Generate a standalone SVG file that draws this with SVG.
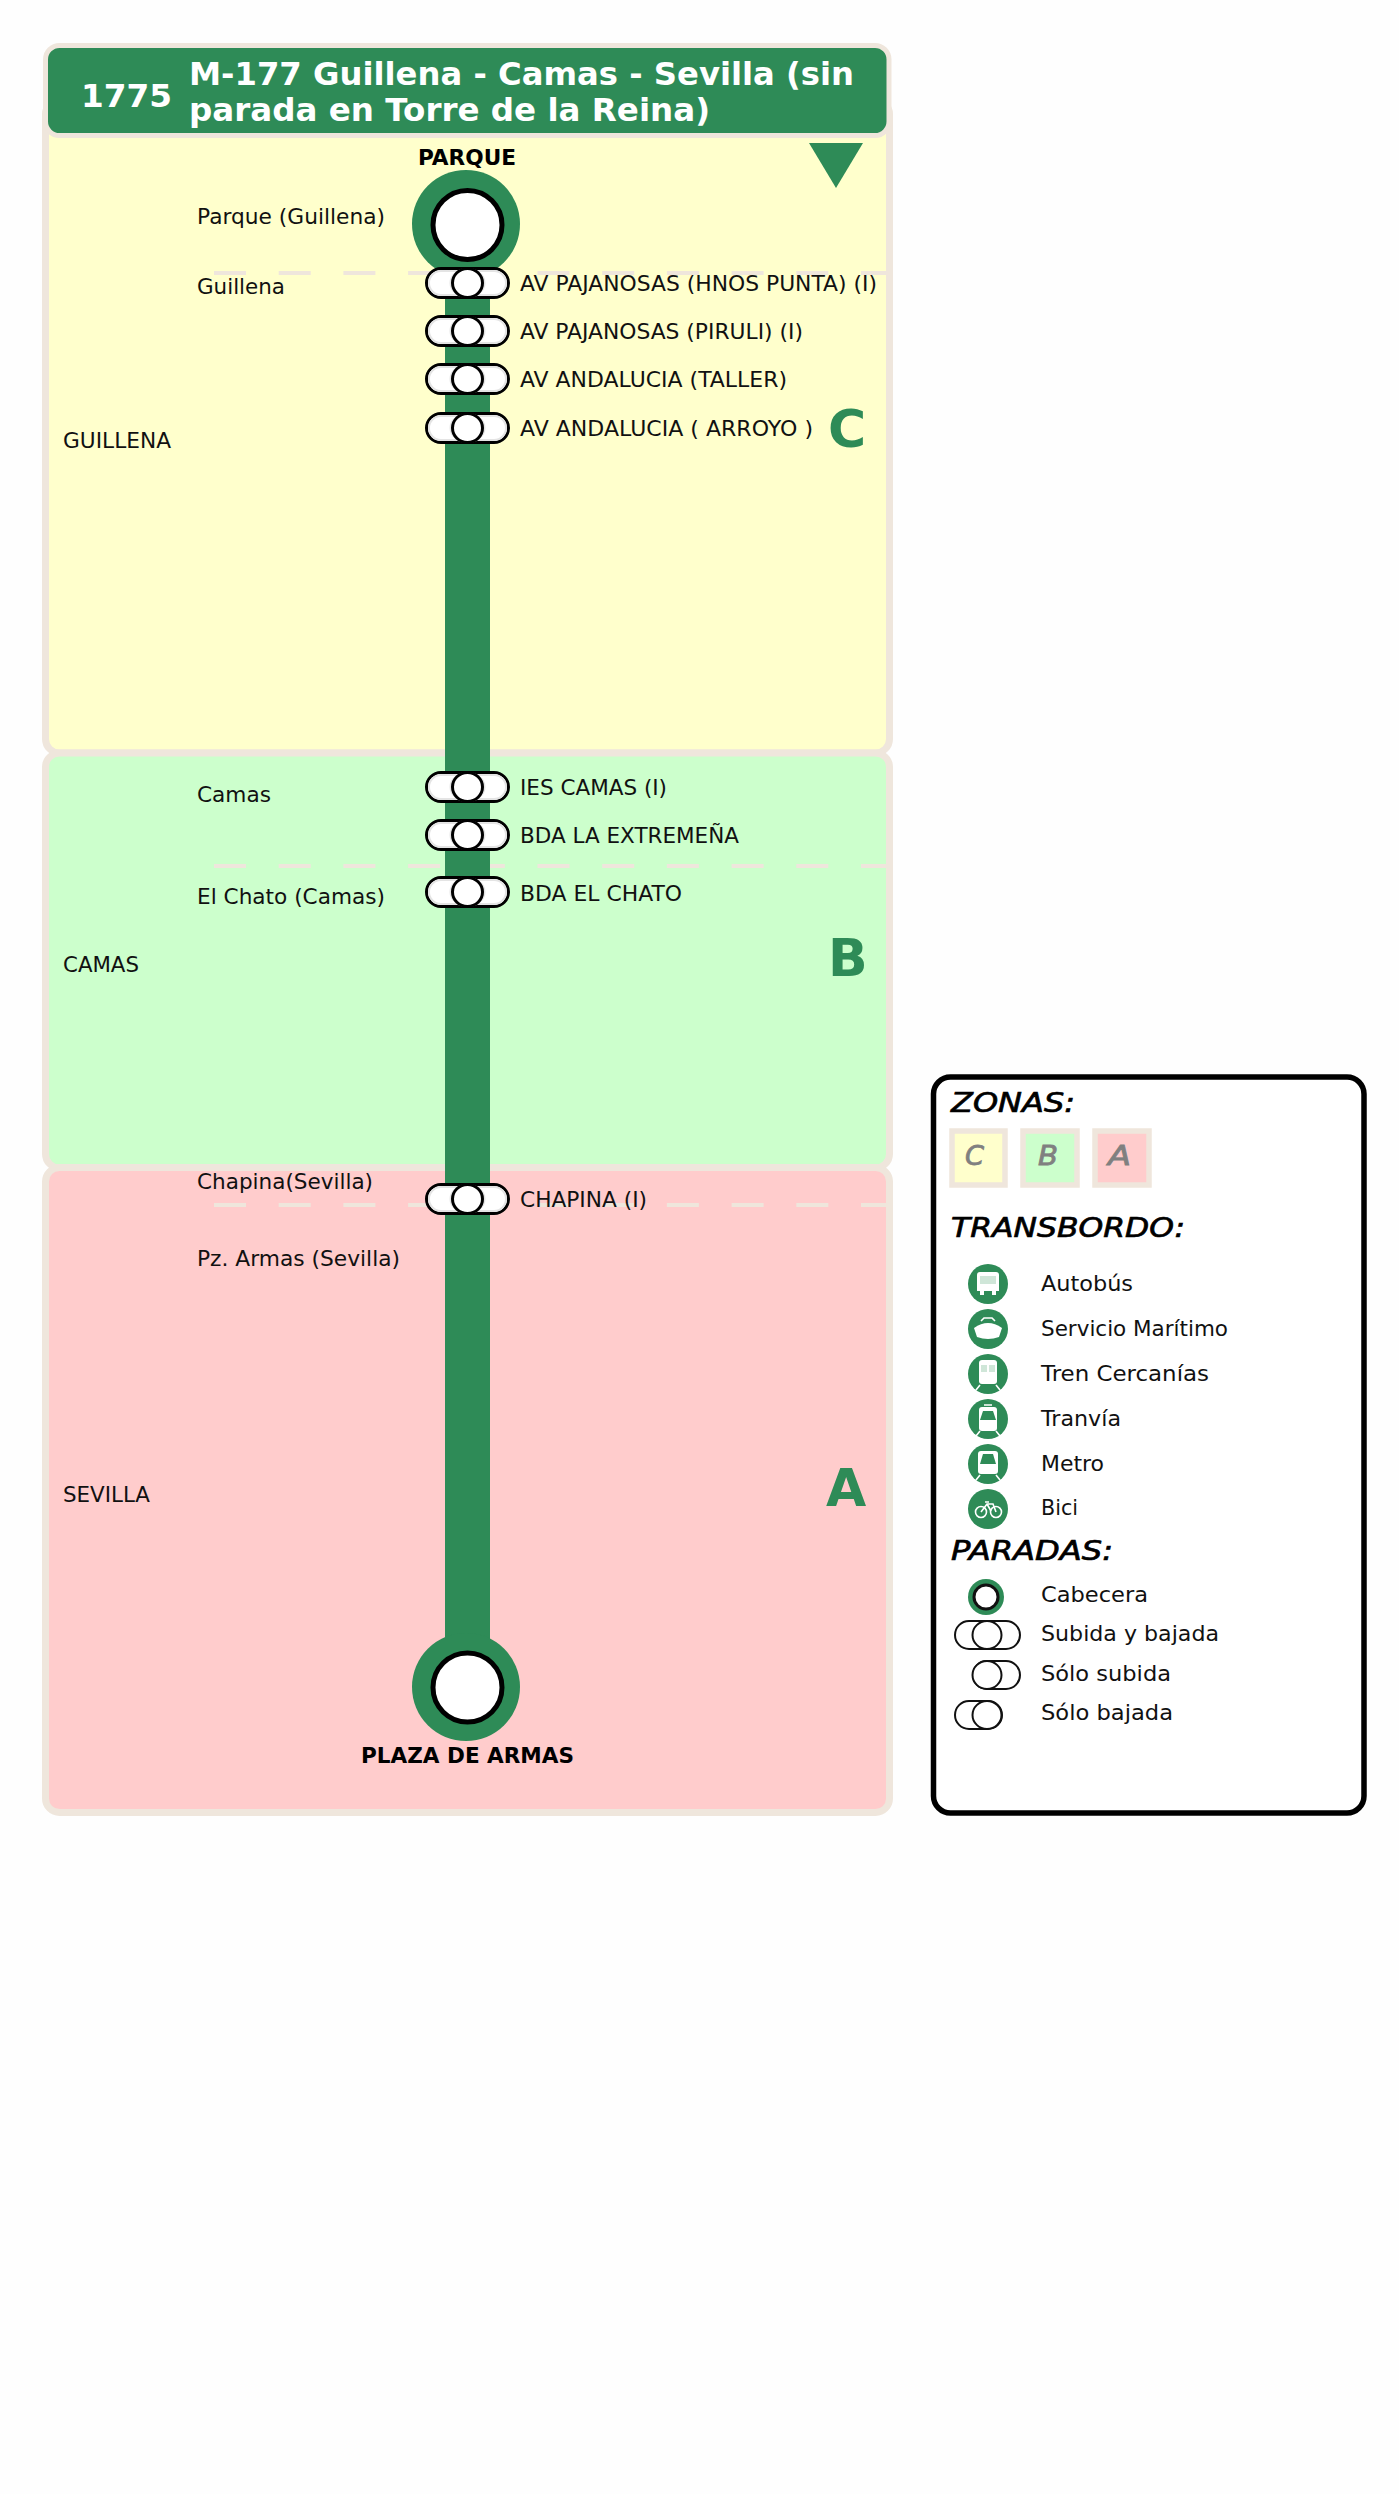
<svg xmlns="http://www.w3.org/2000/svg" width="1399" height="2494" viewBox="0 0 1399 2494">
<style>
text{font-family:"DejaVu Sans",sans-serif;fill:#111}
.z{stroke:#efe6dc;stroke-width:7}
.dash{stroke:#efe6dc;stroke-width:4;stroke-dasharray:32 32.7;fill:none}
.l{font-size:21.500px}
.b{font-size:21px;font-weight:bold;fill:#000}
.h{font-weight:bold;fill:#fff;font-size:31.500px}
.big{font-weight:bold;font-size:52px;fill:#2e8b57}
.t{font-style:italic;font-size:27px;fill:#000;stroke:#000;stroke-width:.7}
.s{font-style:italic;font-size:27px;fill:#808080;stroke:#808080;stroke-width:.8}
.p{fill:#fff;stroke:#000;stroke-width:3}
.g{fill:none;stroke:#e4e4e4;stroke-width:2}
.q{fill:#fff;stroke:#111;stroke-width:2}
.i{fill:#2e8b57}
.w{fill:#fff}
.y{fill:#cfe6d8}
.v{fill:none;stroke:#fff;stroke-width:1.600}
</style>
<defs>
<g id="stop">
<rect class="p" x="-41" y="-14.500" width="82" height="29" rx="14.500"/>
<rect class="g" x="-38.500" y="-12" width="77" height="24" rx="12"/>
<ellipse class="g" cx="0" cy="0" rx="17" ry="14"/>
<ellipse class="p" cx="0" cy="0" rx="15" ry="14.500"/>
</g>
</defs>
<rect width="1399" height="2494" fill="#fefefe"/>
<g id="zones">
<rect class="z" x="45.500" y="100" width="844" height="653" rx="14" fill="#ffc"/>
<rect class="z" x="45.500" y="753" width="844" height="415" rx="14" fill="#cfc"/>
<rect class="z" x="45.500" y="1167.500" width="844" height="645" rx="14" fill="#fcc"/>
</g>
<g id="header">
<rect x="45.500" y="45.500" width="843.500" height="90" rx="14" fill="#2e8b57" stroke="#efe6dc" stroke-width="5"/>
<text class="h" x="81" y="107" textLength="91" lengthAdjust="spacingAndGlyphs">1775</text>
<text class="h" x="189" y="85" textLength="665" lengthAdjust="spacingAndGlyphs">M-177 Guillena - Camas - Sevilla (sin</text>
<text class="h" x="189" y="121" textLength="521" lengthAdjust="spacingAndGlyphs">parada en Torre de la Reina)</text>
</g>
<g id="dashes">
<path class="dash" d="M214 273H889M214 866H889M214 1205H889"/>
</g>
<g id="connectors">
<path d="M467.500 225V1687" stroke="#2e8b57" stroke-width="45" fill="none"/>
</g>
<path id="direction" d="M809 143H863L836 188Z" fill="#2e8b57"/>
<g id="zone-labels">
<text class="l" x="63" y="448" textLength="108" lengthAdjust="spacingAndGlyphs">GUILLENA</text>
<text class="l" x="63" y="972" textLength="76" lengthAdjust="spacingAndGlyphs">CAMAS</text>
<text class="l" x="63" y="1502" textLength="87" lengthAdjust="spacingAndGlyphs">SEVILLA</text>
<text class="big" x="828" y="447">C</text>
<text class="big" x="828" y="976">B</text>
<text class="big" x="826" y="1506">A</text>
</g>
<g id="place-labels">
<text class="l" x="197" y="224" textLength="188" lengthAdjust="spacingAndGlyphs">Parque (Guillena)</text>
<text class="l" x="197" y="294" textLength="88" lengthAdjust="spacingAndGlyphs">Guillena</text>
<text class="l" x="197" y="802" textLength="74" lengthAdjust="spacingAndGlyphs">Camas</text>
<text class="l" x="197" y="904" textLength="188" lengthAdjust="spacingAndGlyphs">El Chato (Camas)</text>
<text class="l" x="197" y="1189" textLength="176" lengthAdjust="spacingAndGlyphs">Chapina(Sevilla)</text>
<text class="l" x="197" y="1266" textLength="203" lengthAdjust="spacingAndGlyphs">Pz. Armas (Sevilla)</text>
</g>
<g id="terminal-parque">
<circle cx="466" cy="224" r="54" fill="#2e8b57"/>
<circle cx="467.500" cy="225" r="34.500" fill="#fff" stroke="#000" stroke-width="5"/>
<text class="b" x="418" y="165" textLength="98" lengthAdjust="spacingAndGlyphs">PARQUE</text>
</g>
<g id="stop-1"><use href="#stop" x="467.500" y="283"/><text class="l" x="520" y="291" textLength="357" lengthAdjust="spacingAndGlyphs">AV PAJANOSAS (HNOS PUNTA) (I)</text></g>
<g id="stop-2"><use href="#stop" x="467.500" y="331"/><text class="l" x="520" y="339" textLength="283" lengthAdjust="spacingAndGlyphs">AV PAJANOSAS (PIRULI) (I)</text></g>
<g id="stop-3"><use href="#stop" x="467.500" y="379"/><text class="l" x="520" y="387" textLength="267" lengthAdjust="spacingAndGlyphs">AV ANDALUCIA (TALLER)</text></g>
<g id="stop-4"><use href="#stop" x="467.500" y="428"/><text class="l" x="520" y="436" textLength="293" lengthAdjust="spacingAndGlyphs">AV ANDALUCIA ( ARROYO )</text></g>
<g id="stop-5"><use href="#stop" x="467.500" y="787"/><text class="l" x="520" y="795" textLength="147" lengthAdjust="spacingAndGlyphs">IES CAMAS (I)</text></g>
<g id="stop-6"><use href="#stop" x="467.500" y="835"/><text class="l" x="520" y="843" textLength="219" lengthAdjust="spacingAndGlyphs">BDA LA EXTREMEÑA</text></g>
<g id="stop-7"><use href="#stop" x="467.500" y="892"/><text class="l" x="520" y="901" textLength="162" lengthAdjust="spacingAndGlyphs">BDA EL CHATO</text></g>
<g id="stop-8"><use href="#stop" x="467.500" y="1199"/><text class="l" x="520" y="1207" textLength="127" lengthAdjust="spacingAndGlyphs">CHAPINA (I)</text></g>
<g id="terminal-plaza">
<circle cx="466" cy="1687" r="54" fill="#2e8b57"/>
<circle cx="467.500" cy="1687.500" r="34.500" fill="#fff" stroke="#000" stroke-width="5"/>
<text class="b" x="361" y="1763" textLength="213" lengthAdjust="spacingAndGlyphs">PLAZA DE ARMAS</text>
</g>
<g id="legend">
<rect x="933.500" y="1077" width="430.500" height="736" rx="17" fill="#fff" stroke="#000" stroke-width="5.500"/>
<text class="t" x="951" y="1112" textLength="124" lengthAdjust="spacingAndGlyphs">ZONAS:</text>
<rect class="z" x="952" y="1131" width="53" height="54" fill="#ffc" style="stroke-width:5.500"/>
<rect class="z" x="1023" y="1131" width="54" height="54" fill="#cfc" style="stroke-width:5.500"/>
<rect class="z" x="1095" y="1131" width="54" height="54" fill="#fcc" style="stroke-width:5.500"/>
<text class="s" x="965" y="1165" textLength="19" lengthAdjust="spacingAndGlyphs">C</text>
<text class="s" x="1038" y="1165" textLength="20" lengthAdjust="spacingAndGlyphs">B</text>
<text class="s" x="1108" y="1165" textLength="23" lengthAdjust="spacingAndGlyphs">A</text>
<text class="t" x="951" y="1237" textLength="234" lengthAdjust="spacingAndGlyphs">TRANSBORDO:</text>
<g id="icon-bus"><circle class="i" cx="988" cy="1284" r="20"/><path class="w" d="M980 1272h16q3 0 3 3v16h-3v4h-4v-4h-8v4h-4v-4h-3v-16q0-3 3-3z"/><rect class="y" x="980" y="1276" width="16" height="8"/></g>
<g id="icon-boat"><circle class="i" cx="988" cy="1329" r="20"/><path class="w" d="M974 1328q7-5 14-5t14 5l-3 9q-11 4-22 0z"/><path class="v" d="M981 1321l3-3h8l3 3"/></g>
<g id="icon-train"><circle class="i" cx="988" cy="1374" r="20"/><rect class="w" x="979" y="1360" width="18" height="24" rx="3"/><rect class="y" x="981" y="1365" width="6" height="7"/><rect class="y" x="989" y="1365" width="6" height="7"/><path class="v" d="M980 1385l-4 5M996 1385l4 5"/></g>
<g id="icon-tram"><circle class="i" cx="988" cy="1419" r="20"/><rect class="w" x="979" y="1407" width="18" height="24" rx="3"/><path class="i" d="M983 1411h10l3 9h-16z"/><path class="v" d="M984 1405h8M980 1431l-4 5M996 1431l4 5"/></g>
<g id="icon-metro"><circle class="i" cx="988" cy="1464" r="20"/><rect class="w" x="978" y="1451" width="20" height="23" rx="3"/><path class="i" d="M983 1454h10l3 10h-16z"/><path class="v" d="M980 1475l-4 5M996 1475l4 5"/></g>
<g id="icon-bike"><circle class="i" cx="988" cy="1509" r="20"/><g class="v"><circle cx="981" cy="1512" r="5.500"/><circle cx="996" cy="1512" r="5.500"/><path d="M981 1512l6-8h6l3 8M987 1504l4 7M985 1502h4"/></g></g>
<text class="l" x="1041" y="1291" textLength="92" lengthAdjust="spacingAndGlyphs">Autobús</text>
<text class="l" x="1041" y="1336" textLength="187" lengthAdjust="spacingAndGlyphs">Servicio Marítimo</text>
<text class="l" x="1041" y="1381" textLength="168" lengthAdjust="spacingAndGlyphs">Tren Cercanías</text>
<text class="l" x="1041" y="1426" textLength="80" lengthAdjust="spacingAndGlyphs">Tranvía</text>
<text class="l" x="1041" y="1471" textLength="63" lengthAdjust="spacingAndGlyphs">Metro</text>
<text class="l" x="1041" y="1515" textLength="37" lengthAdjust="spacingAndGlyphs">Bici</text>
<text class="t" x="951" y="1560" textLength="162" lengthAdjust="spacingAndGlyphs">PARADAS:</text>
<g id="key-terminal"><circle class="i" cx="986" cy="1597" r="18"/><circle cx="986" cy="1597" r="12" fill="#fff" stroke="#111" stroke-width="3"/></g>
<g id="key-both"><rect class="q" x="955" y="1621" width="65" height="28" rx="14"/><ellipse class="q" cx="987" cy="1635" rx="14.500" ry="14"/></g>
<g id="key-up"><rect class="q" x="973" y="1661" width="47" height="28" rx="14"/><ellipse class="q" cx="987" cy="1675" rx="14.500" ry="14"/></g>
<g id="key-down"><rect class="q" x="955" y="1701" width="47" height="28" rx="14"/><ellipse class="q" cx="987" cy="1715" rx="14.500" ry="14"/></g>
<text class="l" x="1041" y="1602" textLength="107" lengthAdjust="spacingAndGlyphs">Cabecera</text>
<text class="l" x="1041" y="1641" textLength="178" lengthAdjust="spacingAndGlyphs">Subida y bajada</text>
<text class="l" x="1041" y="1681" textLength="130" lengthAdjust="spacingAndGlyphs">Sólo subida</text>
<text class="l" x="1041" y="1720" textLength="132" lengthAdjust="spacingAndGlyphs">Sólo bajada</text>
</g>
</svg>
